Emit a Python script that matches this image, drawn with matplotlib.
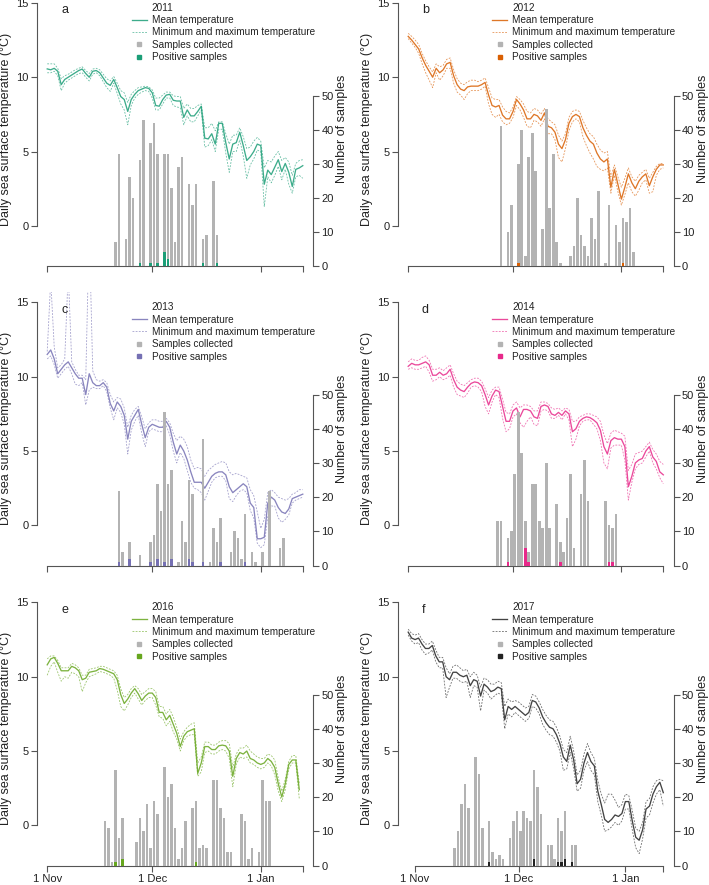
import numpy as np
import matplotlib
matplotlib.use("Agg")
import matplotlib.pyplot as plt
from matplotlib.lines import Line2D

plt.rcParams['font.family'] = ['Liberation Sans', 'DejaVu Sans']

# day 0 = 1 November
years = ['2011', '2012', '2013', '2014', '2016', '2017']
letters = ['a', 'b', 'c', 'd', 'e', 'f']
colors = ['#1b9e77', '#d95f02', '#7570b3', '#e7298a', '#66a61e', '#222222']
first_day = [0, 0, 0, 0, 0, -2]
last_day = [73, 73, 73, 73, 73, 72]
xtick_days = [0, 30, 61]
xtick_labels = ['1 Nov', '1 Dec', '1 Jan']

# ---- 2011 ----
mean_2011 = [10.56, 10.5, 10.6, 10.4, 9.5, 9.85, 10.0, 10.15, 10.3, 10.45,
             10.55, 10.25, 10.0, 10.4, 10.45, 10.3, 9.95, 9.6, 9.45, 9.85,
             9.3, 8.7, 8.5, 7.7, 8.5, 8.85, 9.1, 9.2, 9.3, 9.25,
             8.95, 8.1, 8.05, 8.5, 8.8, 8.85, 8.45, 8.4, 8.4, 7.3,
             7.8, 7.4, 7.4, 7.7, 8.05, 5.9, 5.85, 6.2, 5.5, 6.9,
             6.9, 5.6, 4.5, 5.5, 5.6, 6.3, 5.4, 4.4, 4.65, 5.0,
             5.5, 5.4, 2.8, 3.75, 3.45, 3.95, 4.45, 3.65, 4.2, 3.6,
             2.65, 3.8, 3.9, 4.05]
max_2011 = [10.9, 10.9, 10.9, 10.6, 9.9, 10.1, 10.2, 10.35, 10.5, 10.6,
            10.7, 10.45, 10.25, 10.55, 10.6, 10.5, 10.2, 9.9, 9.75, 10.05,
            9.6, 9.1, 8.95, 8.3, 8.85, 9.1, 9.3, 9.35, 9.4, 9.35,
            9.15, 8.6, 8.6, 8.8, 9.0, 9.0, 8.75, 8.7, 8.7, 7.9,
            8.2, 7.9, 7.9, 8.1, 8.2, 6.6, 6.6, 6.9, 6.4, 7.0,
            7.0, 6.2, 5.5, 6.1, 6.1, 6.6, 6.0, 5.2, 5.3, 5.7,
            5.95, 5.7, 3.9, 4.4, 4.3, 4.7, 5.0, 4.4, 4.6, 4.3,
            3.4, 4.2, 4.4, 4.45]
min_2011 = [10.3, 10.3, 10.4, 10.1, 9.1, 9.6, 9.8, 9.95, 10.1, 10.25,
            10.3, 10.0, 9.75, 10.2, 10.3, 10.1, 9.7, 9.3, 9.05, 9.6,
            8.9, 8.2, 7.8, 6.8, 8.1, 8.6, 8.85, 9.0, 9.1, 9.05,
            8.6, 7.8, 7.8, 8.2, 8.6, 8.6, 8.1, 8.0, 7.95, 6.8,
            7.4, 7.0, 7.0, 7.4, 7.8, 5.3, 5.4, 5.8, 5.0, 6.5,
            6.5, 4.9, 3.6, 5.0, 5.0, 5.8, 4.7, 3.2, 4.1, 4.5,
            5.1, 5.0, 1.3, 3.3, 2.9, 3.4, 4.0, 3.1, 3.8, 2.8,
            2.2, 3.3, 3.4, 3.2]
days_2011 = [19, 20, 22, 23, 24, 26, 27, 29, 30, 31, 33, 34, 35, 36, 37, 38,
             40, 41, 42, 44, 45, 47, 48]
samples_2011 = [7, 33, 8, 26, 20, 31, 43, 36, 42, 33, 33, 33, 23, 7, 29, 32,
                24, 18, 24, 8, 9, 25, 9]
pos_days_2011 = [26, 29, 31, 33, 34, 44, 48]
positive_2011 = [1, 1, 1, 4, 2, 1, 1]

# ---- 2012 ----
mean_2012 = [12.75, 12.5, 12.2, 11.9, 11.3, 10.8, 10.4, 10.0, 10.6, 10.3,
             10.5, 10.9, 11.0, 10.1, 9.5, 9.2, 9.1, 9.35, 9.4, 9.4,
             9.4, 9.5, 9.65, 8.8, 8.1, 8.0, 8.1, 7.45, 7.2, 7.2,
             7.7, 8.5, 8.2, 7.8, 7.2, 7.2, 7.5, 7.4, 7.1, 7.6,
             6.7, 6.6, 6.3, 5.5, 5.2, 5.8, 6.9, 7.35, 7.5, 7.35,
             6.6, 6.1, 5.7, 5.5, 4.9, 4.5, 4.3, 4.5, 2.6, 3.8,
             2.8, 1.8, 2.6, 3.5, 2.9, 2.5, 3.0, 3.3, 3.5, 2.7,
             3.3, 3.8, 4.1, 4.1]
max_2012 = [12.95, 12.75, 12.5, 12.2, 11.6, 11.1, 10.7, 10.35, 10.9, 10.7,
            10.8, 11.2, 11.3, 10.5, 9.9, 9.6, 9.5, 9.7, 9.8, 9.8,
            9.7, 9.8, 9.95, 9.3, 8.6, 8.5, 8.5, 8.0, 7.7, 7.6,
            8.0, 8.7, 8.5, 8.2, 7.7, 7.6, 7.9, 7.8, 7.5, 7.9,
            7.2, 7.0, 6.8, 6.1, 5.7, 6.2, 7.3, 7.7, 7.8, 7.7,
            7.1, 6.6, 6.2, 6.0, 5.5, 5.1, 4.9, 5.0, 3.3, 4.1,
            3.3, 2.6, 3.2, 3.9, 3.3, 3.0, 3.4, 3.6, 3.8, 3.2,
            3.6, 4.0, 4.2, 4.2]
min_2012 = [12.6, 12.3, 12.0, 11.6, 10.9, 10.3, 9.8, 9.3, 10.3, 9.8,
            10.1, 10.6, 10.6, 9.6, 9.0, 8.8, 8.5, 8.9, 9.1, 9.1,
            9.1, 9.2, 9.4, 8.2, 7.5, 7.3, 7.5, 7.0, 6.8, 6.9,
            7.3, 8.1, 7.8, 7.3, 6.7, 6.6, 7.1, 7.0, 6.7, 7.2,
            6.2, 6.2, 5.8, 4.6, 4.3, 5.2, 6.4, 7.0, 7.2, 7.0,
            6.0, 5.4, 4.9, 4.5, 4.0, 3.8, 3.7, 3.9, 2.2, 3.4,
            2.3, 1.4, 2.1, 2.9, 2.3, 2.0, 2.4, 2.9, 3.1, 2.2,
            2.3, 3.4, 3.8, 3.9]
days_2012 = [26, 28, 29, 31, 32, 33, 34, 35, 36, 38, 39, 40, 41, 42, 43, 46,
             47, 48, 49, 50, 51, 52, 53, 54, 56, 57, 59, 60, 61, 62, 63, 64]
samples_2012 = [41, 10, 18, 30, 40, 3, 32, 39, 28, 11, 46, 17, 33, 7, 1, 3,
                6, 20, 9, 6, 3, 14, 8, 22, 1, 18, 12, 7, 14, 13, 17, 4]
pos_days_2012 = [31, 61]
positive_2012 = [1, 1]

# ---- 2013 ----
mean_2013 = [11.5, 11.8, 11.2, 10.2, 10.5, 10.8, 11.0, 10.6, 10.2, 9.9,
             9.9, 8.8, 10.2, 9.6, 9.4, 9.4, 9.6, 9.3, 8.2, 7.7,
             8.3, 8.0, 7.4, 5.8, 7.0, 7.4, 7.8, 6.8, 5.9, 6.6,
             6.8, 6.7, 6.6, 6.6, 7.0, 6.6, 5.6, 4.8, 5.4, 5.0,
             4.4, 3.6, 2.9, 2.9, 2.9, 2.5, 2.9, 3.3, 3.5, 3.6,
             3.6, 3.4, 2.6, 2.2, 2.4, 2.6, 2.8, 2.6, 1.5, 1.2,
             -0.9, -0.9, -0.8, 1.5, 1.9, 1.7, 1.2, 0.9, 0.8, 1.1,
             1.8, 1.9, 2.0, 2.1]
max_2013 = [11.7, 16.5, 12.0, 10.6, 10.8, 11.2, 17.0, 11.0, 10.5, 10.1,
            10.1, 9.8, 20.0, 10.4, 9.8, 9.7, 9.8, 9.6, 8.8, 8.3,
            8.6, 8.5, 7.9, 6.6, 7.4, 7.8, 8.0, 7.3, 6.5, 6.9,
            7.1, 7.1, 7.0, 7.0, 7.2, 6.9, 6.2, 5.7, 6.0, 5.8,
            5.3, 4.4, 3.8, 3.9, 3.8, 3.3, 3.7, 3.9, 4.1, 4.2,
            4.3, 4.2, 3.6, 3.4, 3.5, 3.4, 3.3, 3.2, 2.4, 2.0,
            0.9, -0.2, 0.4, 2.2, 2.4, 2.2, 1.9, 1.8, 1.7, 1.8,
            2.1, 2.2, 2.4, 2.4]
min_2013 = [11.2, 11.4, 10.8, 9.9, 10.2, 10.5, 10.7, 10.2, 9.5, 9.4,
            9.6, 8.1, 9.1, 9.3, 9.2, 9.2, 9.4, 9.0, 7.9, 7.1,
            7.9, 7.6, 6.8, 4.8, 6.4, 7.0, 7.4, 6.2, 5.3, 6.3,
            6.5, 6.4, 6.3, 6.3, 6.7, 6.1, 5.0, 4.2, 4.9, 4.5,
            3.7, 2.9, 2.5, 2.4, 2.2, 1.7, 2.3, 2.9, 3.2, 3.3,
            3.3, 3.0, 1.8, 1.6, 2.0, 2.3, 2.4, 2.2, 1.0, 0.5,
            -1.2, -1.5, -1.3, 0.6, 1.3, 1.3, 0.5, 0.2, 0.4, 0.7,
            1.5, 1.7, 1.8, 1.9]
days_2013 = [20, 21, 23, 26, 29, 30, 31, 32, 33, 34, 35, 37, 38, 39, 40, 41,
             44, 46, 47, 48, 49, 52, 53, 54, 55, 56, 58, 59, 61, 63, 66, 67]
samples_2013 = [22, 4, 7, 3, 7, 9, 24, 16, 45, 24, 28, 1, 13, 7, 25, 21,
                37, 1, 11, 7, 14, 4, 10, 8, 2, 15, 4, 1, 4, 22, 5, 8]
pos_days_2013 = [20, 23, 29, 31, 33, 35, 40, 41, 44, 49, 56]
positive_2013 = [1, 2, 1, 2, 1, 2, 2, 1, 1, 1, 1]

# ---- 2014 ----
mean_2014 = [10.7, 10.9, 10.8, 10.8, 10.9, 11.0, 10.8, 10.1, 10.1, 10.3,
             10.1, 10.2, 10.5, 9.8, 9.3, 9.1, 9.0, 9.3, 9.55, 9.65,
             9.6, 9.4, 8.8, 8.1, 8.7, 9.1, 9.0, 8.0, 7.0, 7.0,
             7.7, 7.9, 7.3, 7.8, 7.8, 7.7, 7.3, 7.2, 8.0, 8.1,
             8.0, 7.5, 7.4, 7.6, 7.4, 7.7, 7.5, 6.3, 6.5, 7.0,
             7.2, 7.3, 7.25, 7.1, 6.9, 6.4, 5.3, 4.8, 5.7, 5.9,
             5.8, 5.8, 5.3, 2.6, 3.3, 4.2, 4.4, 4.5, 5.0, 5.3,
             4.6, 4.3, 3.6, 3.4]
max_2014 = [11.0, 11.2, 11.1, 11.1, 11.3, 11.4, 11.1, 10.5, 10.5, 10.6,
            10.4, 10.6, 10.8, 10.2, 9.7, 9.5, 9.4, 9.6, 9.8, 9.9,
            9.9, 9.7, 9.2, 8.6, 9.1, 9.3, 9.3, 8.5, 7.6, 7.5,
            8.1, 8.3, 7.9, 8.1, 8.1, 8.0, 7.7, 7.7, 8.3, 8.3,
            8.2, 7.9, 7.8, 7.9, 7.7, 7.9, 7.8, 7.0, 7.0, 7.3,
            7.4, 7.5, 7.5, 7.4, 7.3, 7.0, 6.1, 5.5, 6.2, 6.4,
            6.3, 6.2, 6.0, 3.7, 4.1, 4.8, 4.9, 5.0, 5.3, 5.6,
            5.1, 4.8, 4.3, 4.1]
min_2014 = [10.5, 10.6, 10.5, 10.5, 10.6, 10.7, 10.3, 9.7, 9.8, 10.0,
            9.8, 9.9, 10.1, 9.3, 8.8, 8.7, 8.6, 8.9, 9.3, 9.4,
            9.3, 9.0, 8.0, 7.5, 8.3, 8.8, 8.6, 7.2, 6.3, 6.5,
            7.3, 7.5, 6.9, 6.6, 7.0, 7.3, 6.8, 6.7, 7.7, 7.8,
            7.7, 7.2, 7.2, 7.4, 7.1, 7.5, 7.1, 5.3, 5.8, 6.7,
            7.0, 7.1, 7.1, 6.8, 6.5, 5.7, 4.2, 3.8, 5.2, 5.4,
            5.4, 5.4, 4.4, 1.7, 2.9, 3.8, 4.1, 4.2, 4.6, 5.0,
            4.2, 3.8, 3.2, 2.8]
days_2014 = [25, 26, 28, 29, 30, 31, 32, 33, 34, 35, 36, 37, 38, 39, 40, 42,
             43, 44, 45, 46, 47, 49, 50, 51, 56, 57, 58, 59]
samples_2014 = [13, 13, 8, 10, 27, 45, 33, 13, 4, 24, 24, 13, 11, 30, 11, 18,
                7, 4, 14, 27, 5, 21, 31, 19, 19, 12, 11, 15]
pos_days_2014 = [28, 33, 34, 43, 57, 58]
positive_2014 = [1, 5, 1, 1, 1, 1]

# ---- 2016 ----
mean_2016 = [10.8, 11.2, 11.3, 10.9, 10.4, 10.4, 10.4, 10.7, 10.6, 10.4,
             9.8, 9.9, 10.3, 10.35, 10.4, 10.55, 10.5, 10.4, 10.3, 10.2,
             9.8, 8.8, 8.2, 8.5, 8.9, 9.2, 8.85, 8.4, 8.7, 8.9,
             8.9, 8.6, 7.6, 7.6, 7.1, 7.4, 6.8, 6.2, 5.3, 6.0,
             6.3, 6.4, 6.5, 3.5, 4.2, 5.3, 5.3, 5.1, 5.1, 5.35,
             5.4, 5.35, 5.0, 3.3, 4.5, 4.9, 4.8, 5.0, 4.5, 4.4,
             4.2, 4.1, 4.2, 4.5, 4.3, 3.9, 2.8, 1.9, 2.8, 4.1,
             4.4, 4.4, 2.4]
max_2016 = [11.2, 11.4, 11.4, 11.1, 10.6, 10.6, 10.6, 10.9, 10.8, 10.6,
            10.1, 10.1, 10.5, 10.55, 10.6, 10.7, 10.7, 10.6, 10.5, 10.4,
            10.1, 9.2, 8.6, 8.8, 9.2, 9.4, 9.2, 8.8, 9.0, 9.2,
            9.2, 9.0, 8.0, 8.0, 7.5, 7.8, 7.3, 6.6, 5.8, 6.3,
            6.6, 6.8, 6.9, 4.2, 4.6, 5.6, 5.6, 5.4, 5.4, 5.6,
            5.7, 5.7, 5.5, 3.9, 4.8, 5.2, 5.2, 5.4, 5.0, 4.8,
            4.6, 4.5, 4.5, 4.8, 4.7, 4.4, 3.2, 2.3, 3.1, 4.3,
            4.7, 4.7, 2.8]
min_2016 = [10.1, 10.7, 11.0, 10.3, 9.7, 10.0, 9.9, 10.3, 10.2, 10.0,
            9.0, 9.6, 10.0, 10.1, 10.2, 10.35, 10.3, 10.2, 10.1, 9.9,
            9.1, 8.0, 7.7, 8.1, 8.6, 8.9, 8.5, 8.1, 8.4, 8.6,
            8.6, 8.1, 7.3, 7.2, 6.7, 7.0, 6.3, 5.8, 5.0, 5.7,
            6.0, 6.1, 6.1, 3.3, 3.6, 4.9, 5.0, 4.8, 4.8, 5.0,
            5.1, 5.0, 4.5, 2.6, 4.1, 4.6, 4.5, 4.6, 4.2, 4.1,
            3.9, 3.8, 3.9, 4.2, 4.0, 3.4, 2.3, 1.6, 2.4, 3.8,
            4.2, 4.2, 1.8]
days_2016 = [16, 17, 18, 19, 20, 21, 25, 26, 27, 28, 29, 30, 31, 33, 34, 35,
             36, 37, 38, 39, 41, 42, 43, 44, 45, 47, 48, 49, 50, 51, 52, 55,
             56, 57, 58, 60, 61, 62, 63]
samples_2016 = [13, 11, 1, 28, 8, 14, 7, 14, 10, 18, 5, 19, 15, 29, 20, 24,
                11, 2, 5, 13, 17, 19, 5, 6, 5, 25, 25, 17, 14, 4, 4, 15,
                13, 2, 5, 4, 25, 19, 19]
pos_days_2016 = [19, 21, 42]
positive_2016 = [1, 2, 1]

# ---- 2017 (starts 30 Oct) ----
mean_2017 = [13.0, 12.6, 12.5, 12.6, 12.2, 11.9, 11.9, 12.1, 11.4, 11.0,
             11.0, 10.0, 9.8, 10.3, 10.3, 10.1, 10.0, 10.1, 9.4, 9.8,
             9.7, 8.7, 9.5, 9.3, 9.0, 9.1, 9.3, 9.2, 7.1, 8.0,
             7.8, 8.0, 7.8, 7.6, 7.4, 7.6, 8.4, 8.3, 7.9, 7.3,
             6.9, 6.6, 6.5, 6.1, 5.5, 4.6, 4.3, 5.4, 4.4, 2.8,
             3.1, 4.2, 4.9, 4.3, 4.0, 2.3, 1.4, 0.4, 0.2, 0.4,
             0.7, 0.6, 0.8, 1.6, 1.6, 0.3, -0.8, -1.0, -0.3, 1.1,
             1.3, 2.1, 2.6, 2.9, 2.2]
max_2017 = [13.2, 12.9, 12.8, 12.9, 12.5, 12.2, 12.2, 12.4, 11.8, 11.3,
            11.3, 10.6, 10.2, 10.7, 10.8, 10.6, 10.4, 10.5, 10.0, 10.3,
            10.1, 9.3, 9.9, 9.8, 9.5, 9.5, 9.7, 9.6, 8.0, 8.5,
            8.3, 8.4, 8.3, 8.1, 7.9, 8.0, 8.8, 8.7, 8.3, 7.8,
            7.4, 7.1, 7.0, 6.6, 6.0, 5.1, 4.9, 6.0, 5.0, 3.4,
            3.7, 4.8, 5.5, 4.9, 4.5, 3.0, 2.1, 1.5, 2.1, 2.1,
            1.7, 1.2, 1.4, 2.1, 2.0, 1.0, -0.2, -0.4, 0.2, 1.6,
            1.8, 2.6, 3.0, 3.1, 3.0]
min_2017 = [12.8, 12.4, 12.2, 12.3, 11.8, 11.5, 11.6, 11.8, 11.0, 10.6,
            10.6, 8.6, 9.3, 9.9, 9.9, 9.7, 9.6, 9.7, 8.6, 9.4,
            9.3, 7.7, 9.1, 8.9, 8.5, 8.7, 8.9, 8.8, 6.5, 7.5,
            7.3, 7.6, 7.4, 7.2, 7.0, 7.2, 8.0, 7.9, 7.5, 6.8,
            6.4, 6.1, 6.0, 5.6, 5.0, 3.7, 3.8, 4.9, 3.8, 2.3,
            2.5, 3.7, 4.3, 3.7, 3.4, 1.6, 0.7, -0.4, -0.3, -0.1,
            0.2, 0.0, 0.3, 1.1, 1.1, -0.3, -1.5, -1.9, -0.9, 0.5,
            0.7, 1.5, 2.1, 2.4, 1.3]
days_2017 = [11, 12, 13, 14, 15, 17, 18, 19, 21, 22, 23, 24, 25, 27, 28, 29,
             30, 31, 32, 33, 34, 35, 36, 38, 39, 40, 41, 42, 43, 45, 46]
samples_2017 = [5, 10, 18, 24, 17, 32, 27, 11, 13, 4, 2, 3, 2, 8, 13, 16,
                10, 16, 14, 13, 28, 23, 15, 6, 6, 2, 14, 10, 16, 6, 6]
pos_days_2017 = [21, 34, 41, 42, 43, 45]
positive_2017 = [1, 2, 1, 1, 2, 1]

means = [mean_2011, mean_2012, mean_2013, mean_2014, mean_2016, mean_2017]
maxs = [max_2011, max_2012, max_2013, max_2014, max_2016, max_2017]
mins = [min_2011, min_2012, min_2013, min_2014, min_2016, min_2017]
sample_days = [days_2011, days_2012, days_2013, days_2014, days_2016, days_2017]
samples = [samples_2011, samples_2012, samples_2013, samples_2014, samples_2016, samples_2017]
pos_days = [pos_days_2011, pos_days_2012, pos_days_2013, pos_days_2014, pos_days_2016, pos_days_2017]
positives = [positive_2011, positive_2012, positive_2013, positive_2014, positive_2016, positive_2017]

W, H = 709, 885
fig = plt.figure(figsize=(W / 100, H / 100), dpi=100)

grey = '#b3b3b3'
axis_col = '#555555'
text_col = '#222222'
col_left = [37, 398]
col_width = [276, 275.5]
row_bottom = [266, 565.5, 865.5]
ax_h = 273.5

for i in range(6):
    row, col = i // 2, i % 2
    c = colors[i]
    ax = fig.add_axes([col_left[col] / W, 1 - row_bottom[row] / H,
                       col_width[col] / W, ax_h / H])
    x = np.arange(first_day[i], first_day[i] + len(means[i]))
    dash = (0, (2.2, 1.6))
    ax.plot(x, maxs[i], color=c, lw=0.6, ls=dash, alpha=0.65)
    ax.plot(x, mins[i], color=c, lw=0.6, ls=dash, alpha=0.65)
    ax.plot(x, means[i], color=c, lw=0.95, alpha=0.85)

    span = last_day[i] - first_day[i]
    ax.set_xlim(first_day[i] - 0.04 * span, last_day[i] + 0.04 * span)
    ax.set_ylim(-2.7, 15.7)

    ax2 = ax.twinx()
    ax2.bar(np.array(sample_days[i]) + 0.5, samples[i], width=0.74, color=grey, lw=0)
    ax2.bar(np.array(pos_days[i]) + 0.5, positives[i], width=0.74, color=c, lw=0)
    ax2.set_ylim(0, 80.3)

    for s in ['top', 'right']:
        ax.spines[s].set_visible(False)
    for s in ['top', 'left', 'bottom']:
        ax2.spines[s].set_visible(False)
    ax.spines['left'].set_bounds(0, 15)
    ax.spines['bottom'].set_bounds(0, last_day[i])
    ax2.spines['right'].set_bounds(0, 50)
    for a in (ax, ax2):
        for s in a.spines.values():
            s.set_color(axis_col)
            s.set_linewidth(0.8)
        a.tick_params(direction='out', length=4, width=0.8, color=axis_col,
                      labelcolor=text_col, labelsize=8, pad=2)

    ax.set_yticks([0, 5, 10, 15])
    ax2.set_yticks(range(0, 51, 10))
    ax.set_xticks(xtick_days + [last_day[i]])
    if row == 2:
        ax.set_xticklabels(xtick_labels + [''])
    else:
        ax.set_xticklabels([])
    ax.set_ylabel('Daily sea surface temperature (\u00b0C)', fontsize=9,
                  color=text_col, labelpad=3)
    ax2.set_ylabel('Number of samples', fontsize=9, color=text_col, labelpad=2)

    ax.text(0.087, 0.935, letters[i], transform=ax.transAxes, fontsize=9,
            color=text_col, va='center', ha='left')

    handles = [
        Line2D([], [], ls='none', label=years[i]),
        Line2D([], [], color=c, lw=0.95, alpha=0.85, label='Mean temperature'),
        Line2D([], [], color=c, lw=0.6, ls=dash, alpha=0.65,
               label='Minimum and maximum temperature'),
        Line2D([], [], ls='none', marker='s', ms=2.2, color=grey, label='Samples collected'),
        Line2D([], [], ls='none', marker='s', ms=2.2, color=c, label='Positive samples'),
    ]
    leg = ax2.legend(handles=handles, loc='upper left', bbox_to_anchor=(0.343, 0.963),
                     frameon=False, fontsize=7.2, handlelength=1.5, handletextpad=0.5,
                     labelspacing=0.24, borderpad=0, borderaxespad=0)
    for t in leg.get_texts():
        t.set_color(text_col)

fig.savefig('out.png', dpi=100)
